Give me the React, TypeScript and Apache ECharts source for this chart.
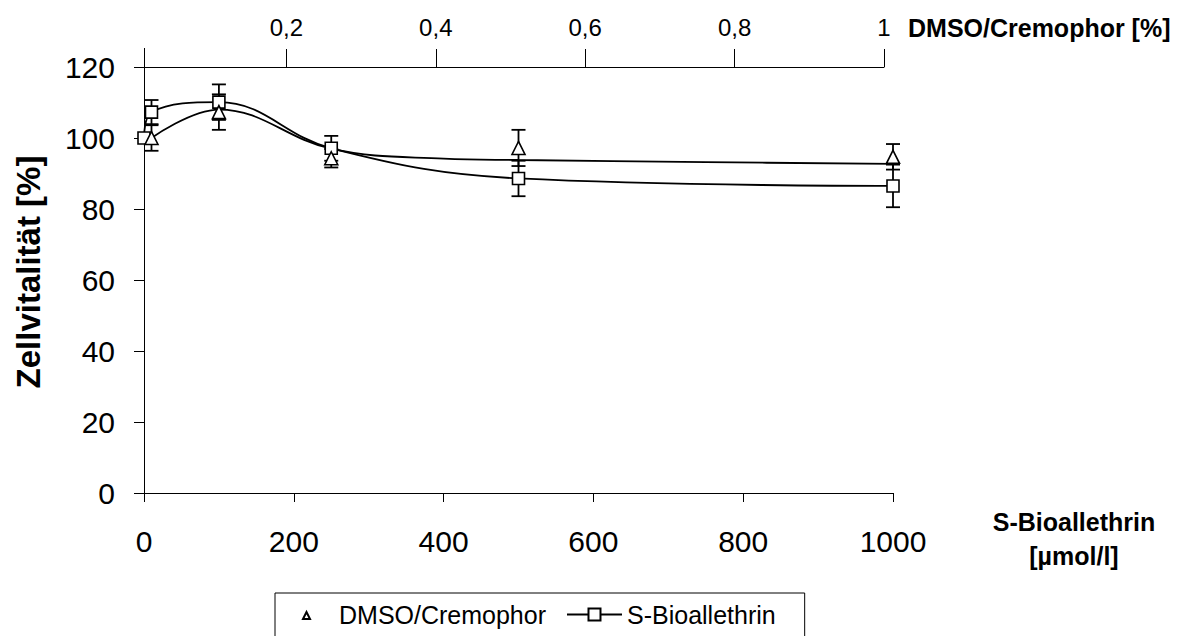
import React, { useEffect, useRef } from "react";
import * as echarts from "echarts";

// ---- data ----
const concX = [0, 10, 100, 250, 500, 1000]; // S-Bioallethrin [µmol/l]
const bioY = [100, 107.3, 110.1, 97.1, 88.6, 86.5];
const bioErr = [0, 3.4, 5.0, 3.5, 5.0, 6.0];

const dmsoX = [10, 100, 250, 500, 1000];
const dmsoY = [100, 107.3, 94.3, 97.2, 94.7];
const dmsoErr = [3.6, 5.0, 2.6, 5.1, 3.6];

// smoothed DMSO/Cremophor curve (no markers)
const dmsoCurveX = [10, 100, 250, 400, 500, 750, 1000];
const dmsoCurveY = [100, 108, 97, 94.2, 93.8, 93.2, 92.7];

const yTicks = { min: 0, max: 120, interval: 20 };
const xTicks = { min: 0, max: 1000, interval: 200 };
const topTicks = [0.2, 0.4, 0.6, 0.8, 1];

const FONT = "'Liberation Sans', Arial, sans-serif";

function errData(xs: number[], ys: number[], es: number[]) {
  const out: number[][] = [];
  xs.forEach((x, i) => {
    if (es[i] > 0) out.push([x, ys[i] - es[i], ys[i] + es[i]]);
  });
  return out;
}

const errRender = (params: any, api: any) => {
  const x = api.value(0);
  const lo = api.value(1);
  const hi = api.value(2);
  const t = api.coord([x, hi]);
  const b = api.coord([x, lo]);
  const hw = 7;
  const st = { stroke: "#000", lineWidth: 1.8 };
  return {
    type: "group",
    children: [
      { type: "line", shape: { x1: t[0], y1: t[1], x2: b[0], y2: b[1] }, style: st },
      { type: "line", shape: { x1: t[0] - hw, y1: t[1], x2: t[0] + hw, y2: t[1] }, style: st },
      { type: "line", shape: { x1: b[0] - hw, y1: b[1], x2: b[0] + hw, y2: b[1] }, style: st },
    ],
  };
};

export default function App() {
  const ref = useRef<HTMLDivElement>(null);
  useEffect(() => {
    if (!ref.current) return;
    const chart = echarts.init(ref.current, undefined, { renderer: "svg" });
    const option: any = {
      animation: false,
      backgroundColor: "#fff",
      textStyle: { fontFamily: FONT, color: "#000" },
      grid: [
        { left: 144, right: 299, top: 67, bottom: 143 },
        { left: 137, right: 308, top: 67, bottom: 143 },
      ],
      xAxis: [
        {
          type: "value",
          gridIndex: 0,
          position: "bottom",
          min: xTicks.min,
          max: xTicks.max,
          interval: xTicks.interval,
          splitLine: { show: false },
          axisLine: { show: true, onZero: false, lineStyle: { color: "#000", width: 1 } },
          axisTick: { show: true, inside: false, length: 9, lineStyle: { color: "#000" } },
          axisLabel: {
            fontSize: 30,
            color: "#000",
            margin: 33,
            fontFamily: FONT,
            formatter: (v: number) => String(v),
          },
          name: "S-Bioallethrin\n[µmol/l]",
          nameLocation: "end",
          nameGap: 181,
          nameTextStyle: {
            fontSize: 25,
            fontWeight: "bold",
            color: "#000",
            align: "center",
            verticalAlign: "top",
            lineHeight: 34,
            padding: [12, 0, 0, 0],
            fontFamily: FONT,
          },
        },
        {
          type: "value",
          gridIndex: 1,
          position: "top",
          min: 0,
          max: 1,
          interval: 0.2,
          splitLine: { show: false },
          axisLine: { show: true, onZero: false, lineStyle: { color: "#000", width: 1 } },
          axisTick: {
            show: true,
            inside: false,
            length: 18,
            customValues: topTicks,
            lineStyle: { color: "#000" },
          },
          axisLabel: {
            fontSize: 24,
            color: "#000",
            margin: 28,
            fontFamily: FONT,
            customValues: topTicks,
            formatter: (v: number) =>
              v === 0 ? "" : String(+v.toFixed(1)).replace(".", ","),
          },
          name: "DMSO/Cremophor [%]",
          nameLocation: "end",
          nameGap: 24,
          nameTextStyle: {
            fontSize: 25,
            fontWeight: "bold",
            color: "#000",
            align: "left",
            verticalAlign: "bottom",
            padding: [0, 0, 27, 0],
            fontFamily: FONT,
          },
        },
      ],
      yAxis: [
        {
          type: "value",
          gridIndex: 0,
          min: yTicks.min,
          max: yTicks.max,
          interval: yTicks.interval,
          splitLine: { show: false },
          axisLine: { show: true, onZero: false, lineStyle: { color: "#000", width: 1 } },
          axisTick: { show: true, inside: false, length: 10, lineStyle: { color: "#000" } },
          axisLabel: { fontSize: 30, color: "#000", margin: 29, fontFamily: FONT },
          name: "Zellvitalität [%]",
          nameLocation: "middle",
          nameGap: 99,
          nameTextStyle: {
            fontSize: 33,
            fontWeight: "bold",
            color: "#000",
            fontFamily: FONT,
            padding: [0, 0, 0, 16],
          },
        },
        {
          type: "value",
          gridIndex: 1,
          min: yTicks.min,
          max: yTicks.max,
          show: false,
        },
      ],
      legend: {
        data: [
          { name: "DMSO/Cremophor", icon: "path://M0,0 M55,15 M24,12 L27.5,5 L31,12 Z" },
          { name: "S-Bioallethrin" },
        ],
        left: 275,
        top: 593,
        orient: "horizontal",
        itemWidth: 55,
        itemHeight: 15,
        itemGap: 20,
        padding: [9, 29, 30, 3],
        borderColor: "#000",
        borderWidth: 1,
        backgroundColor: "#fff",
        textStyle: { fontSize: 25, color: "#000", fontFamily: FONT },
      },
      graphic: [
        {
          type: "line",
          shape: { x1: 144.5, y1: 48, x2: 144.5, y2: 67 },
          style: { stroke: "#000", lineWidth: 1 },
        },
      ],
      series: [
        {
          name: "DMSO-Fehler",
          type: "custom",
          xAxisIndex: 0,
          yAxisIndex: 0,
          renderItem: errRender,
          data: errData(dmsoX, dmsoY, dmsoErr),
          z: 1,
          silent: true,
        },
        {
          name: "Bio-Fehler",
          type: "custom",
          xAxisIndex: 0,
          yAxisIndex: 0,
          renderItem: errRender,
          data: errData(concX, bioY, bioErr),
          z: 1,
          silent: true,
        },
        {
          name: "DMSO-Kurve",
          type: "line",
          xAxisIndex: 0,
          yAxisIndex: 0,
          data: dmsoCurveX.map((x, i) => [x, dmsoCurveY[i]]),
          smooth: 0.4,
          showSymbol: false,
          symbol: "none",
          lineStyle: { color: "#000", width: 1.8 },
          z: 2,
        },
        {
          name: "S-Bioallethrin",
          type: "line",
          xAxisIndex: 0,
          yAxisIndex: 0,
          data: concX.map((x, i) => [x, bioY[i]]),
          smooth: 0.4,
          symbol: "rect",
          symbolSize: 12,
          itemStyle: { color: "#fff", borderColor: "#000", borderWidth: 1.6, opacity: 1 },
          lineStyle: { color: "#000", width: 1.8 },
          z: 3,
        },
        {
          name: "DMSO/Cremophor",
          type: "scatter",
          xAxisIndex: 0,
          yAxisIndex: 0,
          data: dmsoX.map((x, i) => [x, dmsoY[i]]),
          symbol: "triangle",
          symbolSize: 13,
          itemStyle: { color: "#fff", borderColor: "#000", borderWidth: 1.6, opacity: 1 },
          z: 4,
        },
      ],
    };
    chart.setOption(option);
    return () => chart.dispose();
  }, []);
  return (
    <div
      ref={ref}
      style={{ position: "absolute", left: 0, top: 0, width: 1192, height: 636, background: "#fff" }}
    />
  );
}
